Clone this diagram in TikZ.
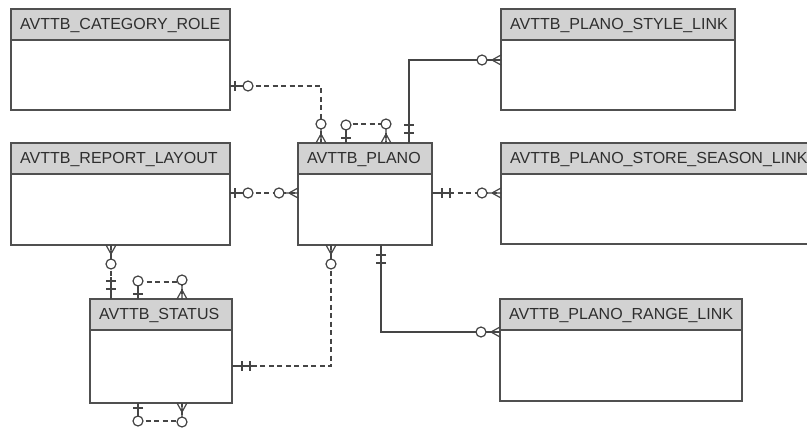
\documentclass[tikz,border=0pt]{standalone}
\usepackage{fontspec}
\setmainfont{Liberation Sans}
\definecolor{bc}{HTML}{505050}
\definecolor{lc}{HTML}{454545}
\definecolor{hf}{HTML}{D2D2D2}
\definecolor{tc}{HTML}{2E2E2E}
\begin{document}
\begin{tikzpicture}[x=1pt,y=-1pt,
  ebox/.style={draw=bc, line width=1.4pt, fill=white, inner sep=0pt, outer sep=0pt},
  ehead/.style={draw=bc, line width=1.4pt, fill=hf, inner sep=0pt, outer sep=0pt},
  etext/.style={text=tc, font=\fontsize{16}{18}\selectfont, inner sep=0pt},
  mk/.style={draw=lc, line width=1.2pt},
  rel/.style={draw=lc, line width=1.2pt, dash pattern=on 5pt off 3.5pt},
  idrel/.style={draw=lc, line width=1.2pt},
  zmany/.pic={\draw[mk] (0,-5)--(9,0)--(0,5) (0,0)--(14,0); \draw[mk,fill=white] (19,0) circle[radius=5pt];},
  zone/.pic={\draw[mk] (0,0)--(14,0) (5,-5)--(5,5); \draw[mk,fill=white] (18,0) circle[radius=5pt];},
  onlyone/.pic={\draw[mk] (0,0)--(22,0) (10,-5)--(10,5) (18,-5)--(18,5);}
]
\fill[white] (0,0) rectangle (807,428);
\clip (0,0) rectangle (807,428);
\newcommand\entity[6]{%
  \node[ebox, minimum width=#4pt, minimum height=#5pt, anchor=north west] (#1) at (#2,#3) {};
  \node[ehead, minimum width=#4pt, minimum height=31pt, anchor=north west] (#1h) at (#2,#3) {};
  \node[etext, anchor=west] (#1t) at ([xshift=9pt,yshift=-1pt]#1h.west) {#6};
}
\entity{cat}{11}{9}{219}{101}{AVTTB\_CATEGORY\_ROLE}
\entity{style}{501}{9}{234}{101}{AVTTB\_PLANO\_STYLE\_LINK}
\entity{rep}{11}{143}{219}{102}{AVTTB\_REPORT\_LAYOUT}
\entity{plano}{298}{143}{134}{102}{AVTTB\_PLANO}
\entity{store}{501}{143}{330}{101}{AVTTB\_PLANO\_STORE\_SEASON\_LINK}
\entity{status}{90}{299}{142}{104}{AVTTB\_STATUS}
\entity{range}{500}{299}{242}{102}{AVTTB\_PLANO\_RANGE\_LINK}

% category role -> plano
\draw[rel] (cat.east |- 0,86) -- (321,86) -- (plano.north -| 321,0);
\pic[rotate=0] at (cat.east |- 0,86) {zone};
\pic[rotate=90] at (plano.north -| 321,0) {zmany};

% plano self loop
\draw[rel] (plano.north -| 346,0) -- (346,124) -- (386,124) -- (plano.north -| 386,0);
\pic[rotate=90] at (plano.north -| 346,0) {zone};
\pic[rotate=90] at (plano.north -| 386,0) {zmany};

% plano -> style link
\draw[idrel] (plano.north -| 409,0) -- (409,60) -- (style.west |- 0,60);
\pic[rotate=90] at (plano.north -| 409,0) {onlyone};
\pic[rotate=180] at (style.west |- 0,60) {zmany};

% report layout -> plano
\draw[rel] (rep.east |- 0,193) -- (plano.west |- 0,193);
\pic[rotate=0] at (rep.east |- 0,193) {zone};
\pic[rotate=180] at (plano.west |- 0,193) {zmany};

% plano -> store season link
\draw[rel] (plano.east |- 0,193) -- (store.west |- 0,193);
\pic[rotate=0] at (plano.east |- 0,193) {onlyone};
\pic[rotate=180] at (store.west |- 0,193) {zmany};

% status -> plano
\draw[rel] (plano.south -| 331,0) -- (331,366) -- (status.east |- 0,366);
\pic[rotate=-90] at (plano.south -| 331,0) {zmany};
\pic[rotate=0] at (status.east |- 0,366) {onlyone};

% plano -> range link
\draw[idrel] (plano.south -| 381,0) -- (381,332) -- (range.west |- 0,332);
\pic[rotate=-90] at (plano.south -| 381,0) {onlyone};
\pic[rotate=180] at (range.west |- 0,332) {zmany};

% status -> report layout
\draw[rel] (rep.south -| 111,0) -- (status.north -| 111,0);
\pic[rotate=-90] at (rep.south -| 111,0) {zmany};
\pic[rotate=90] at (status.north -| 111,0) {onlyone};

% status self loop (top)
\draw[rel] (status.north -| 138,0) -- (138,282) -- (182,282) -- (status.north -| 182,0);
\pic[rotate=90] at (status.north -| 138,0) {zone};
\pic[rotate=90] at (status.north -| 182,0) {zmany};

% status self loop (bottom)
\draw[rel] (status.south -| 138,0) -- (138,421) -- (182,421) -- (status.south -| 182,0);
\pic[rotate=-90] at (status.south -| 138,0) {zone};
\pic[rotate=-90] at (status.south -| 182,0) {zmany};
\end{tikzpicture}
\end{document}
